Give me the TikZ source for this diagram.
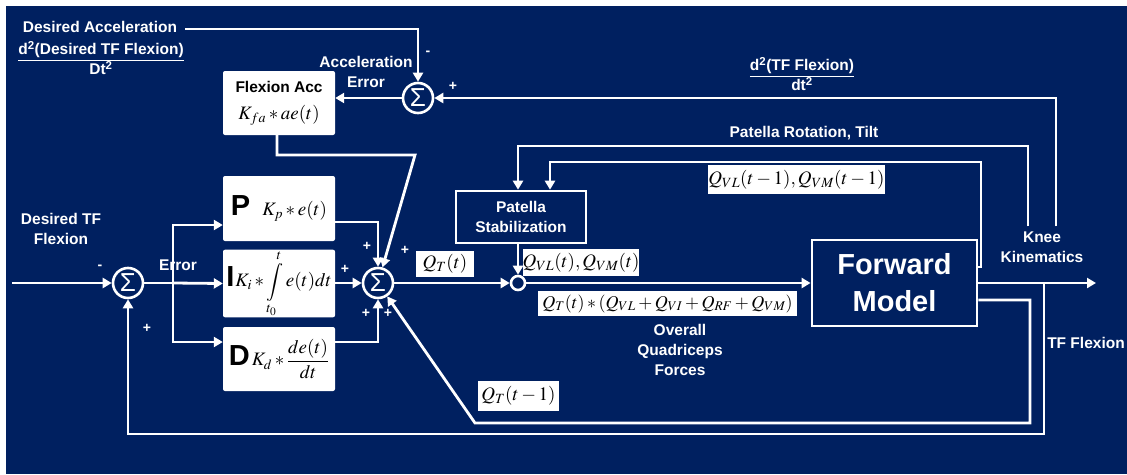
\documentclass[tikz,border=0pt]{standalone}
\usepackage{mathptmx}
\usepackage[no-math]{fontspec}
\setmainfont{Liberation Sans}
\usetikzlibrary{arrows.meta}
\definecolor{navy}{RGB}{0,32,96}
\newcommand{\pidf}{\fontsize{29}{29}\selectfont\bfseries}
\begin{document}
\begin{tikzpicture}[x=1pt,y=-1pt,
  wire/.style={white, line width=2.8pt},
  arr/.style={wire, -{Triangle[length=9pt,width=10pt]}},
  lbl/.style={text=white, font=\fontsize{15.5}{20}\selectfont\bfseries, align=center, inner sep=0pt},
  sgn/.style={text=white, font=\fontsize{14}{14}\selectfont\bfseries, inner sep=0pt},
  sumnode/.style={circle, draw=white, line width=2.6pt, minimum size=30pt, inner sep=0pt, text=white, font=\fontsize{26}{26}\selectfont},
  wbox/.style={fill=white, rounded corners=2pt, inner sep=0pt, font=\fontsize{19}{19}\selectfont},
  mbox/.style={fill=white, inner sep=0pt, font=\fontsize{19}{19}\selectfont}
]
\useasboundingbox (0,0) rectangle (1127,474);
\fill[navy] (6,6) rectangle (1127,474);

% ---- top: acceleration loop
\node[lbl] (daT) at (100,27) {Desired Acceleration};
\node[lbl] (daF) at (101,58) {\underline{d\textsuperscript{2}(Desired TF Flexion)}\\Dt\textsuperscript{2}};
\node[sumnode] (sa) at (418,98) {Σ};
\node[sgn] (saM) at (428,53) {-};
\node[sgn] (saP) at (453,86) {+};
\node[lbl] (aerr) at (366,72) {Acceleration\\Error};
\node[wbox, minimum width=112pt, minimum height=64pt, align=center] (fa) at (279,103)
  {{\fontsize{15.5}{15}\selectfont\bfseries Flexion Acc}\\[8pt]$K_{fa}*ae(t)$};
\node[lbl] (tfd) at (802,74) {\underline{d\textsuperscript{2}(TF Flexion)}\\dt\textsuperscript{2}};
\node[lbl] (prt) at (804,133) {Patella Rotation, Tilt};
\node[mbox, minimum width=163pt, minimum height=29pt] (qvl1) at (796.5,179.5) {$Q_{VL}(t-1),Q_{VM}(t-1)$};

% ---- left: PID
\node[lbl] (dtf) at (61,229) {Desired TF\\Flexion};
\coordinate (in) at (12,283);
\node[sumnode] (ls) at (128,283) {Σ};
\node[sgn] (lsM) at (100,267) {-};
\node[sgn] (lsP) at (147,328) {+};
\node[lbl] (err) at (178,265) {Error};
\coordinate (b) at (173,283);
\node[wbox, minimum width=112pt, minimum height=65pt] (P) at (279,208.5) {{\pidf P}\hspace{12pt}$K_p*e(t)$};
\node[wbox, minimum width=112pt, minimum height=65pt] (I) at (279,283.5) {{\pidf I}\hspace{1pt}$\displaystyle K_i*\int\limits_{t_0}^{t}e(t)dt$};
\node[wbox, minimum width=112pt, minimum height=64pt] (D) at (279,359) {{\pidf D}\hspace{2pt}$\displaystyle K_d*\frac{de(t)}{dt}$};

% ---- main sum
\node[sumnode] (ms) at (378,283) {Σ};
\node[sgn] (msP1) at (367,246) {+};
\node[sgn] (msP2) at (405,250) {+};
\node[sgn] (msP3) at (345,269) {+};
\node[sgn] (msP4) at (366,313) {+};
\node[sgn] (msP5) at (388,313) {+};

% ---- middle
\node[mbox, minimum width=58pt, minimum height=26pt] (qt) at (445,264) {$Q_T(t)$};
\node[circle, draw=white, line width=2.6pt, minimum size=14pt, inner sep=0pt, fill=navy] (sc) at (518,283) {};
\node[lbl, draw=white, line width=2.6pt, fill=navy, minimum width=130pt, minimum height=52pt] (ps) at (521,217) {Patella\\Stabilization};
\node[mbox, minimum width=112pt, minimum height=27pt] (qvl) at (581,262.5) {$Q_{VL}(t),Q_{VM}(t)$};
\node[mbox, minimum width=259pt, minimum height=25pt, font=\fontsize{18}{18}\selectfont] (qprod) at (667.5,303.5) {$Q_T(t)*(Q_{VL}+Q_{VI}+Q_{RF}+Q_{VM})$};
\node[lbl] (oqf) at (680,350) {Overall\\Quadriceps\\Forces};
\node[mbox, minimum width=81pt, minimum height=30pt] (qtm1) at (518.5,396) {$Q_T(t-1)$};

% ---- right
\node[draw=white, line width=2.8pt, minimum width=165pt, minimum height=86pt, text=white,
      font=\fontsize{29}{37}\selectfont\bfseries, align=center, inner sep=0pt] (fm) at (894.5,283) {Forward\\Model};
\node[lbl] (kin) at (1042,247) {Knee\\Kinematics};
\node[lbl] (tff) at (1086,343) {TF Flexion};
\coordinate (out) at (1096,283);
\coordinate (tap) at (1044,283);

% ---- connectors
\draw[arr] ([xshift=8pt,yshift=-2pt]daT.east) -| (sa.north);
\draw[arr] (sa.west) -- (sa.west -| fa.east);
\draw[arr] ([yshift=5pt]kin.north -| 1056,0) |- (sa.east);
\draw[arr] (in) -- (ls.west);
\draw[wire] (ls.east) -- (b);
\draw[arr] (b) -- (I.west);
\draw[arr] (b) |- (P.west |- 0,225);
\draw[arr] (b) |- (D.west |- 0,342);
\draw[arr] (P.east |- 0,222) -| (ms.north);
\draw[arr] (I.east |- ms.west) -- (ms.west);
\draw[arr] (D.east |- 0,342) -| (ms.south);
\draw[arr] (fa.south -| 277,0) |- (415,155) -- (ms);
\draw[arr] (ms.east) -- (sc.west);
\draw[arr] (sc |- ps.south) -- (sc.north);
\draw[arr] (sc.east) -- (fm.west);
\draw[arr] (fm.east) -- (out);
\draw[arr] (tap) |- (ls.south |- 0,434) -- (ls.south);
\draw[arr] (fm.east |- 0,300) -| (1030,423) -- (475,423) -- (ms);
\draw[arr] ([yshift=5pt]kin.north -| 1028,0) |- (sc |- 0,146) -- (sc |- ps.north);
\draw[arr] (fm.east |- 0,267) -- (981,267) |- (550,162) -- (ps.north -| 550,0);
\end{tikzpicture}
\end{document}
